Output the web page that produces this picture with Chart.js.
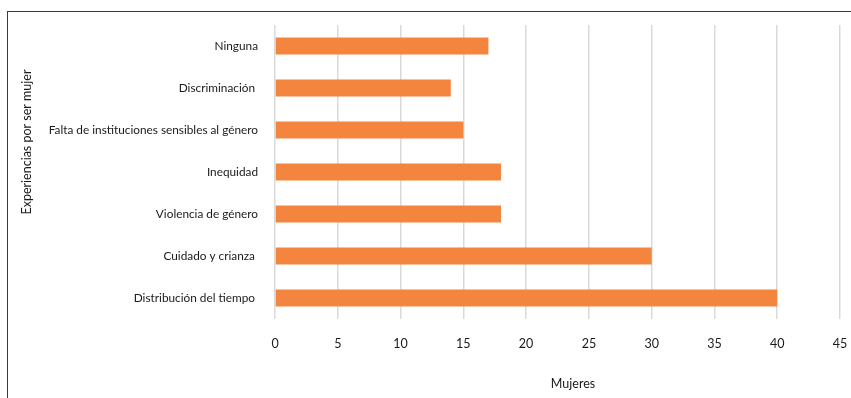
<!doctype html>
<html lang="es">
<head>
<meta charset="utf-8">
<title>Experiencias por ser mujer</title>
<script src="https://cdn.jsdelivr.net/npm/chart.js"></script>
<style>
    html, body { margin: 0; padding: 0; background: #fff; }
    #wrap { position: relative; width: 851px; height: 398px; }
    #frame { position: absolute; left: 7px; top: 11px; right: -2px; bottom: -2px; border-top: 1.5px solid #3a3a3a; border-left: 1.5px solid #3a3a3a; }
    canvas { position: absolute; left: 0; top: 0; }
</style>
</head>
<body>
<div id="wrap">
    <div id="frame"></div>
    <canvas id="chart" width="851" height="398"></canvas>
</div>
<script>
    const categories = ["Ninguna", "Discriminación ", "Falta de instituciones sensibles al género", "Inequidad", "Violencia de género", "Cuidado y crianza ", "Distribución del tiempo "];
    const mujeres = [17, 14, 15, 18, 18, 30, 40];
    const xTicks = [0, 5, 10, 15, 20, 25, 30, 35, 40, 45];
    const xTitle = "Mujeres";
    const yTitle = "Experiencias por ser mujer";

    const fontFamily = "Lato, 'Open Sans', sans-serif";

    // axis titles sit off-center in the original, so draw them by hand
    const axisTitles = {
        id: 'axisTitles',
        afterDraw(chart) {
            const c = chart.ctx;
            c.save();
            c.fillStyle = '#1a1a1a';
            c.font = "12.5px " + fontFamily;
            c.textAlign = 'center';
            c.textBaseline = 'middle';
            c.fillText(xTitle, 573, 384);
            c.translate(27, 142);
            c.rotate(-Math.PI / 2);
            c.fillText(yTitle, 0, 0);
            c.restore();
        }
    };

    new Chart(document.getElementById('chart'), {
        type: 'bar',
        data: {
            labels: categories,
            datasets: [{
                label: xTitle,
                data: mujeres,
                backgroundColor: '#f4853f',
                borderWidth: 0,
                barPercentage: 0.4,
                categoryPercentage: 1.0
            }]
        },
        options: {
            indexAxis: 'y',
            responsive: false,
            animation: false,
            layout: { padding: { top: 25, right: 11, left: 0, bottom: 0 } },
            plugins: { legend: { display: false }, tooltip: { enabled: false } },
            scales: {
                x: {
                    min: 0,
                    max: 45,
                    afterBuildTicks: (s) => { s.ticks = xTicks.map(v => ({ value: v })); },
                    afterFit: (s) => { s.height = 79; s.paddingRight = 0; s.paddingLeft = 0; },
                    grid: { color: '#d9d9d9', lineWidth: 1.5, drawTicks: false },
                    border: { display: false },
                    ticks: { color: '#1a1a1a', padding: 17, font: { family: fontFamily, size: 12.5 } }
                },
                y: {
                    afterFit: (s) => { s.width = 275; s.paddingTop = 0; s.paddingBottom = 0; },
                    grid: { display: false, drawTicks: false },
                    border: { display: false },
                    ticks: { color: '#1a1a1a', padding: 17, font: { family: fontFamily, size: 11.8 } }
                }
            }
        },
        plugins: [axisTitles]
    });
</script>
</body>
</html>
